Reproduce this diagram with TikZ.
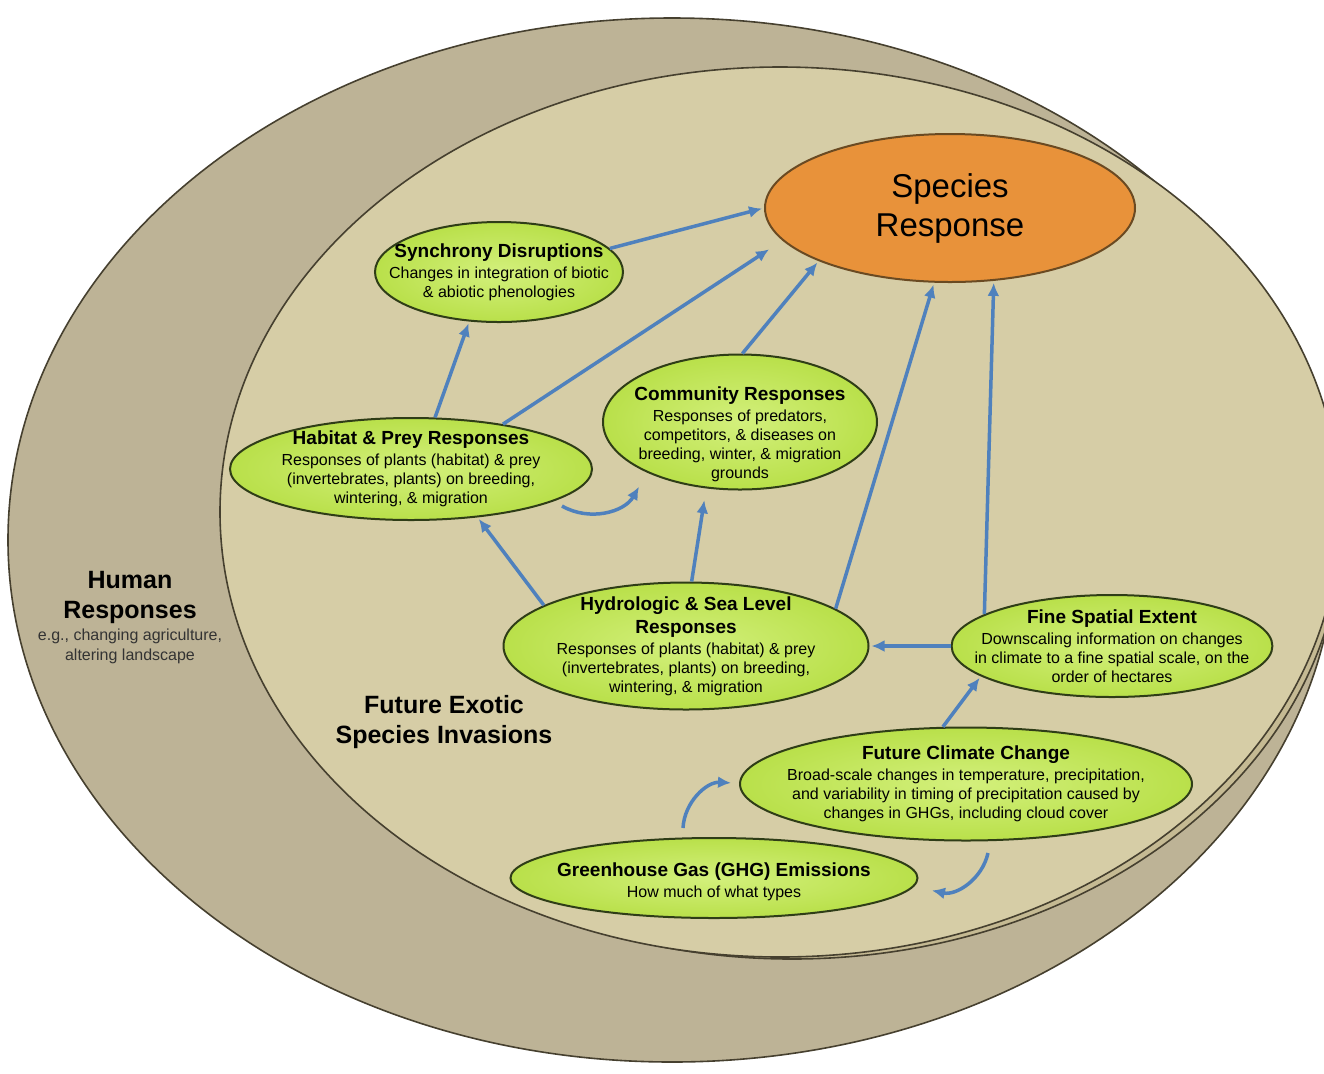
\documentclass[tikz,border=0pt]{standalone}
\usepackage{fontspec}
\setmainfont{Liberation Sans}
\usetikzlibrary{shapes.geometric,arrows.meta}

\definecolor{humanband}{HTML}{BDB396}
\definecolor{exoticface}{HTML}{D6CDA6}
\definecolor{exoticrim}{HTML}{C5BA93}
\definecolor{rimline}{HTML}{46402F}
\definecolor{ovalgreen}{HTML}{B9E04A}
\definecolor{ovalgreenlight}{HTML}{D3F07C}
\definecolor{ovalline}{HTML}{2F3D17}
\definecolor{speciesorange}{HTML}{E8923A}
\definecolor{speciesline}{HTML}{6A4A22}
\definecolor{flowblue}{HTML}{4F81BD}
\definecolor{notegray}{HTML}{333333}

\newcommand{\ovaltitle}[1]{{\fontsize{9.5}{11}\selectfont\bfseries #1}}

\begin{document}
\begin{tikzpicture}[
    x=0.5pt, y=-0.5pt,
    greenoval/.style={ellipse, draw=ovalline, line width=1pt, inner color=ovalgreenlight, outer color=ovalgreen, align=center, inner sep=-12pt, font=\fontsize{8}{9.5}\selectfont},
    flow/.style={draw=flowblue, line width=1.75pt, -{Latex[length=6.5pt,width=6pt]}, shorten >=1pt},
    ringlabel/.style={align=center, font=\fontsize{12.5}{15}\selectfont\bfseries}
]
    % Page
    \fill[white] (0,0) rectangle (1324,1073);
    \useasboundingbox (0,0) rectangle (1324,1073);

    % Rings
    \begin{scope}
        \clip (0,0) rectangle (1324,1073);
        \draw[fill=humanband, draw=rimline, line width=0.8pt] (672,540) ellipse [x radius=664, y radius=522];
        \draw[fill=exoticrim, draw=rimline, line width=0.8pt] (792,524) ellipse [x radius=550, y radius=435];
        \draw[fill=exoticface, draw=rimline, line width=0.8pt] (780,512) ellipse [x radius=560, y radius=445];
    \end{scope}

    % Ring labels
    \node[ringlabel] (human) at (130,597) {Human\\Responses};
    \node[align=center, text=notegray, font=\fontsize{8}{10}\selectfont] (humannote) at (130,646) {e.g., changing agriculture,\\altering landscape};
    \node[ringlabel] (exotic) at (444,722) {Future Exotic\\Species Invasions};

    % Response
    \node[ellipse, draw=speciesline, line width=1pt, fill=speciesorange, minimum width=185pt, minimum height=74pt, inner sep=0pt, align=center, font=\fontsize{16.5}{19.5}\selectfont] (species) at (950,208) {Species\\Response};

    % Drivers
    \node[greenoval, minimum width=124pt, minimum height=50pt] (synch) at (499,272)
        {\ovaltitle{Synchrony Disruptions}\\[1pt]Changes in integration of biotic\\\& abiotic phenologies};
    \node[greenoval, minimum width=181pt, minimum height=51pt] (habitat) at (411,469)
        {\ovaltitle{Habitat \& Prey Responses}\\[1pt]Responses of plants (habitat) \& prey\\(invertebrates, plants) on breeding,\\wintering, \& migration};
    \node[greenoval, minimum width=137pt, minimum height=67.5pt] (community) at (740,422)
        {\mbox{}\\[9.5pt]\ovaltitle{Community Responses}\\[1pt]Responses of predators,\\competitors, \& diseases on\\breeding, winter, \& migration\\grounds};
    \node[greenoval, minimum width=182.5pt, minimum height=63.5pt] (hydro) at (686,646)
        {\ovaltitle{Hydrologic \& Sea Level}\\[2pt]\ovaltitle{Responses}\\[1pt]Responses of plants (habitat) \& prey\\(invertebrates, plants) on breeding,\\wintering, \& migration};
    \node[greenoval, minimum width=157.5pt, minimum height=51pt] (fine) at (1112,646)
        {\ovaltitle{Fine Spatial Extent}\\[1pt]Downscaling information on changes\\in climate to a fine spatial scale, on the\\order of hectares};
    \node[greenoval, minimum width=226pt, minimum height=56.5pt] (climate) at (966,784)
        {\ovaltitle{Future Climate Change}\\[1pt]Broad-scale changes in temperature, precipitation,\\and variability in timing of precipitation caused by\\changes in GHGs, including cloud cover};
    \node[greenoval, minimum width=203.5pt, minimum height=40pt] (ghg) at (714,878)
        {\mbox{}\\[1pt]\ovaltitle{Greenhouse Gas (GHG) Emissions}\\[1pt]How much of what types};

    % Free ends of the curved arrows
    \coordinate (habitatout) at (562,506);
    \coordinate (communityin) at (640,485);
    \coordinate (ghgout) at (683,828);
    \coordinate (climatein) at (733,783);
    \coordinate (climateout) at (988,853);
    \coordinate (ghgin) at (930,890);

    % Connections
    \draw[flow] (synch.12) -- (species.180);
    \draw[flow, shorten >=8pt] (habitat.26) -- (species.191);
    \draw[flow] (habitat.65) -- (synch.239);
    \draw[flow] (community.88) -- (species.202);
    \draw[flow] (hydro.14) -- (species.258);
    \draw[flow] (fine.166) -- (species.301);
    \draw[flow] (fine.west) -- (hydro.east);
    \draw[flow, shorten >=6pt] (hydro.85) -- (community.243);
    \draw[flow] (hydro.164) -- (habitat.324);
    \draw[flow] (climate.112) -- (fine.193);
    \draw[flow] (habitatout) to[bend right=45] (communityin);
    \draw[flow] (ghgout) to[bend left=45] (climatein);
    \draw[flow] (climateout) to[bend left=45] (ghgin);
\end{tikzpicture}
\end{document}
